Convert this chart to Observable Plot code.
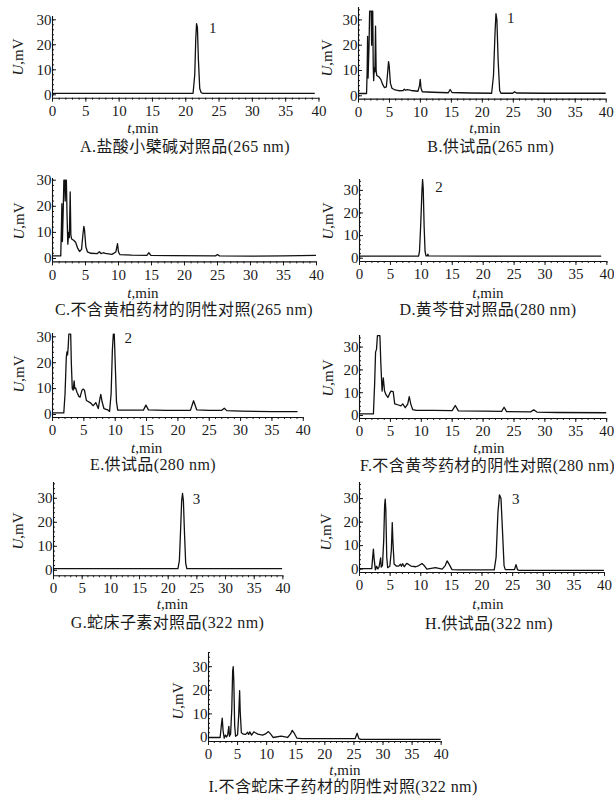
<!DOCTYPE html>
<html><head><meta charset="utf-8">
<script src="https://cdn.jsdelivr.net/npm/d3@7"></script>
<script src="https://cdn.jsdelivr.net/npm/@observablehq/plot@0.6"></script>
<style>
body{margin:0;background:#fff;}
#chart{position:relative;width:614px;height:797px;overflow:hidden;background:#fff;font-family:"Liberation Serif","Noto Sans CJK SC",serif;color:#1a1a1a;}
.p{position:absolute;}
.cap,.xl,.yl{position:absolute;white-space:nowrap;font-size:15px;line-height:1;}
.cap{font-size:16px;letter-spacing:0.4px;}
.cap,.xl{transform:translate(-50%,-50%);}
.yl{transform:translate(-50%,-50%) rotate(-90deg);}
</style></head>
<body><div id="chart"></div>
<script>
// ---- data (t in min, U in mV) ----
const traceA = [[0,0.6],[21.1,0.6],[21.35,8],[21.5,22],[21.62,28.5],[21.75,27],[21.9,14],[22.1,2.5],[22.3,0.9],[22.5,0.6],[39.3,0.6]];
const traceB = [[0,0.9],[1.3,0.9],[1.4,10],[1.47,23.5],[1.55,7],[1.7,20],[1.8,33.5],[1.95,33.5],[2.05,33.5],[2.12,20],[2.2,33.5],[2.3,33.5],[2.38,12],[2.45,6],[2.55,11],[2.65,9.5],[2.75,27.5],[2.85,10],[2.95,8],[3.3,7.5],[3.6,6.5],[3.9,4.5],[4.2,3.2],[4.5,3.5],[4.7,9],[4.85,13.5],[4.95,12],[5.15,5],[5.4,3],[5.9,2.3],[6.5,2],[7.2,2.1],[7.4,2.6],[7.6,2.2],[7.9,2.4],[8.5,2.1],[9.6,1.8],[9.85,4],[9.97,6.5],[10.1,3],[10.3,1.6],[12,1.4],[14.5,1.2],[14.8,2.5],[15.1,1.3],[18,1.1],[21.5,1.0],[21.8,8],[22.05,25],[22.2,32.5],[22.35,30],[22.55,14],[22.8,2],[23.0,1.0],[24.9,1.0],[25.2,1.6],[25.5,1.1],[30,1.0],[35,1.0],[40,1.0]];
const traceC = [[0,1.0],[1.25,1.0],[1.35,12],[1.42,21],[1.5,6.5],[1.62,18],[1.72,30],[1.85,30],[1.92,22],[2.0,30],[2.1,30],[2.2,17],[2.32,5.5],[2.45,10],[2.55,8],[2.68,25.5],[2.78,9],[2.9,7.5],[3.2,7],[3.5,6.2],[3.8,4],[4.1,2.7],[4.4,3.5],[4.6,9],[4.75,12.3],[4.85,11],[5.05,4.5],[5.3,2.5],[5.8,2],[6.8,1.9],[7.1,2.6],[7.35,1.9],[7.7,2.2],[8.0,2.0],[9.0,1.6],[9.6,2.5],[9.85,5.7],[10.0,2.5],[10.2,1.5],[12,1.3],[14.3,1.2],[14.6,2.2],[14.9,1.2],[18,1.1],[24.7,1.0],[25,1.5],[25.3,1.0],[30,0.9],[35,1.0],[40,1.2]];
const traceD = [[0,0.9],[9.55,0.9],[9.7,3],[9.9,15],[10.1,30],[10.2,34.8],[10.3,31],[10.45,14],[10.6,3],[10.75,1.0],[10.95,1.0],[11.05,1.8],[11.15,1.0],[20,0.9],[39,0.9]];
const traceE = [[0,0.6],[1.8,0.6],[2.0,8],[2.2,22],[2.3,24.2],[2.4,23],[2.5,26],[2.6,31],[2.75,31],[2.9,31],[3.0,20],[3.15,10],[3.3,9.4],[3.45,13],[3.55,10],[3.7,10.2],[3.9,8.6],[4.2,7],[4.4,6.7],[4.7,9.4],[4.9,9.8],[5.1,9.4],[5.4,5.4],[6.0,4.6],[6.5,3.4],[6.9,4.6],[7.3,2.3],[7.55,6],[7.7,7.8],[7.9,5],[8.2,2.3],[8.8,1.8],[9.1,1.2],[9.35,8],[9.55,25],[9.7,31],[9.85,31],[10.0,20],[10.2,5],[10.4,1.7],[12,1.7],[14.5,1.7],[14.9,3.6],[15.3,1.8],[18,1.6],[22.0,1.6],[22.5,5.3],[23.0,1.8],[25,1.6],[27.0,1.6],[27.4,2.4],[27.8,1.5],[30,1.3],[35,1.1],[39,1.1]];
const traceF = [[0,0.7],[2.25,0.7],[2.45,14],[2.6,27.8],[2.75,29],[2.9,35],[3.1,35],[3.3,35],[3.45,23],[3.65,10.7],[3.85,16.5],[4.05,10.7],[4.3,9],[4.6,7.9],[4.9,9.8],[5.1,10.7],[5.45,10.5],[5.7,5.1],[6.3,4.6],[6.7,4.2],[7.0,5.1],[7.4,3.4],[7.8,5],[8.05,8.3],[8.3,5],[8.6,2.6],[9.2,2.2],[12,2.2],[15.0,2.1],[15.5,4.4],[16.0,2.0],[20,1.9],[23.0,1.8],[23.4,3.6],[23.8,1.7],[27.7,1.6],[28.2,2.5],[28.7,1.5],[32,1.3],[40,1.2]];
const traceG = [[0,0.7],[21.7,0.7],[21.95,4],[22.15,16],[22.35,29],[22.5,32],[22.65,29],[22.85,15],[23.05,3],[23.25,0.7],[39.8,0.7]];
const traceH = [[0,0.2],[2.0,0.2],[2.15,5],[2.27,8.5],[2.4,4],[2.6,-0.3],[2.8,1.2],[3.0,0.1],[3.2,1],[3.45,4.8],[3.55,0.8],[3.75,1.6],[3.95,12],[4.1,27],[4.2,29.8],[4.3,25],[4.45,5],[4.6,0.6],[4.95,1.2],[5.2,8],[5.35,19.8],[5.45,12],[5.65,2.2],[6.0,1.3],[6.4,1.3],[6.7,2.1],[6.85,1.2],[7.05,2.3],[7.3,1.0],[7.7,2.4],[7.95,2.1],[8.4,1.3],[9.2,1.0],[9.7,1.5],[10.2,2.4],[10.6,1.4],[11.0,0],[12.4,0.6],[13.5,0],[14.0,1.5],[14.3,3.5],[14.6,2.2],[15.1,-0.2],[16.2,-0.3],[22.0,-0.3],[22.3,5],[22.6,24],[22.85,31.6],[23.1,30],[23.35,16],[23.6,1.5],[23.8,-0.2],[25.3,-0.2],[25.55,1.9],[25.8,-0.3],[26.1,-0.5],[40,-0.5]];
const traceI = [[0,0],[2.0,0],[2.2,5],[2.36,8.2],[2.5,3],[2.7,-0.3],[2.9,1],[3.1,0.2],[3.3,1.2],[3.5,4.7],[3.6,0.5],[3.8,1.5],[4.0,12],[4.15,28],[4.25,30],[4.35,24],[4.5,5],[4.65,0.5],[5.0,1.2],[5.2,10],[5.35,19.8],[5.45,11],[5.65,2],[6.0,1.4],[6.4,1.3],[6.7,2.2],[6.9,1.3],[7.1,2.4],[7.4,1.0],[7.8,2.4],[8.05,2.0],[8.5,1.4],[9.3,1.0],[9.8,1.5],[10.3,2.5],[10.7,1.4],[11.1,0],[12.5,0.6],[13.6,0],[14.1,1.5],[14.4,3.0],[14.7,2.0],[15.2,-0.3],[16,-0.5],[25.2,-0.5],[25.55,1.8],[25.85,-0.5],[26.2,-0.8],[40,-0.8]];

const peakA = [{t:23.5,v:26.6,label:"1"}];
const peakB = [{t:24.0,v:30.6,label:"1"}];
const peakD = [{t:12.25,v:31.4,label:"2"}];
const peakE = [{t:11.5,v:29.3,label:"2"}];
const peakG = [{t:24.3,v:29.7,label:"3"}];
const peakH = [{t:24.9,v:29.8,label:"3"}];

const xTicks = [0,5,10,15,20,25,30,35,40];
const yTicks = [0,10,20,30];
const captions = ["A.盐酸小檗碱对照品(265 nm)","B.供试品(265 nm)","C.不含黄柏药材的阴性对照(265 nm)","D.黄芩苷对照品(280 nm)","E.供试品(280 nm)","F.不含黄芩药材的阴性对照(280 nm)","G.蛇床子素对照品(322 nm)","H.供试品(322 nm)","I.不含蛇床子药材的阴性对照(322 nm)"];
const xTitle = "<i>t</i>,min";
const yTitle = "<i>U</i>,mV";

// ---- layout (page px) ----
const layout = [
  {trace:traceA, peaks:peakA, x0:52,   x40:318.5, zero:94.3,  k:2.5,  line:97.7,  top:16,    cap:[185,146.7], xl:[143,128],   yl:[18.3,56.7]},
  {trace:traceB, peaks:peakB, x0:358.3,x40:606,   zero:95,    k:2.53, line:98.3,  top:6.7,   cap:[490.8,146.7], xl:[485,128], yl:[326.7,57.5]},
  {trace:traceC, peaks:[],    x0:52,   x40:316,   zero:258.3, k:2.61, line:261.7, top:178.3, cap:[184,310],   xl:[143,293],   yl:[19,220.8]},
  {trace:traceD, peaks:peakD, x0:359.3,x40:606.7, zero:257.7, k:2.26, line:261,   top:179,   cap:[488,310],   xl:[488,292.7], yl:[327.5,220.8]},
  {trace:traceE, peaks:peakE, x0:51.7, x40:302.5, zero:414.3, k:2.59, line:417.3, top:333.3, cap:[153,465],   xl:[146.7,447.7], yl:[19,374]},
  {trace:traceF, peaks:[],    x0:359.3,x40:606.5, zero:415,   k:2.28, line:418,   top:335,   cap:[487.5,465.7], xl:[489,447.7], yl:[327.5,377.5]},
  {trace:traceG, peaks:peakG, x0:53.3, x40:282.7, zero:569.5, k:2.4,  line:575,   top:481.7, cap:[167.5,623.3], xl:[172.5,604], yl:[17.5,531]},
  {trace:traceH, peaks:peakH, x0:359.3,x40:604.3, zero:568.3, k:2.35, line:571.7, top:481.7, cap:[489,624.3], xl:[488,604],   yl:[325.8,531.7]},
  {trace:traceI, peaks:[],    x0:208.3,x40:441,   zero:736.7, k:2.36, line:740.7, top:651.7, cap:[343,786.7], xl:[345,770],   yl:[177.5,701]}
];

const root = document.getElementById("chart");
const ml = 40, mr = 14, mt = 6, mb = 26;
const font = '"Liberation Serif","Times New Roman",serif';

layout.forEach((p, i) => {
  const ybot = (p.zero - p.line) / p.k;
  const ytop = (p.zero - p.top) / p.k;
  const W = p.x40 - p.x0 + ml + mr;
  const H = p.line - p.top + mt + mb;
  const pts = p.trace.map(([t, v]) => ({t, v}));
  const xMinor = d3.range(0, 41, 1);
  const yMinor = d3.range(0, ytop, 2);
  const svg = Plot.plot({
    width: W, height: H,
    marginLeft: ml, marginRight: mr, marginTop: mt, marginBottom: mb,
    style: {background: "transparent", overflow: "visible", fontFamily: font, fontSize: "15px", color: "#1a1a1a"},
    x: {domain: [0, 40], label: null},
    y: {domain: [ybot, ytop], label: null},
    marks: [
      Plot.axisX({ticks: xMinor, tickSize: 2, tickFormat: () => "", label: null}),
      Plot.axisX({ticks: xTicks, tickSize: 4, tickPadding: 3, fontSize: 15, fontFamily: font, label: null}),
      Plot.axisY({ticks: yMinor, tickSize: 2, dx: 2, tickFormat: () => "", label: null}),
      Plot.axisY({ticks: yTicks, tickSize: 4, dx: 4, tickFormat: () => "", label: null}),
      Plot.axisY({ticks: yTicks, tickSize: 0, tickPadding: 1, fontSize: 15, fontFamily: font, label: null}),
      Plot.ruleY([ybot], {stroke: "#111", strokeWidth: 1.1}),
      Plot.ruleX([0], {y1: ybot, y2: ytop, stroke: "#111", strokeWidth: 1.1}),
      Plot.line(pts, {x: "t", y: "v", stroke: "#111", strokeWidth: 1.3, curve: "linear", clip: true}),
      Plot.text(p.peaks, {x: "t", y: "v", text: "label", textAnchor: "start", fontSize: 15, fontFamily: font, fill: "#1a1a1a"})
    ]
  });
  const div = document.createElement("div");
  div.className = "p";
  div.style.left = (p.x0 - ml) + "px";
  div.style.top = (p.top - mt) + "px";
  div.style.width = W + "px";
  div.style.height = H + "px";
  div.appendChild(svg);
  root.appendChild(div);

  const cap = document.createElement("div");
  cap.className = "cap"; cap.textContent = captions[i];
  cap.style.left = p.cap[0] + "px"; cap.style.top = p.cap[1] + "px";
  root.appendChild(cap);
  const xl = document.createElement("div");
  xl.className = "xl"; xl.innerHTML = xTitle;
  xl.style.left = p.xl[0] + "px"; xl.style.top = p.xl[1] + "px";
  root.appendChild(xl);
  const yl = document.createElement("div");
  yl.className = "yl"; yl.innerHTML = yTitle;
  yl.style.left = p.yl[0] + "px"; yl.style.top = p.yl[1] + "px";
  root.appendChild(yl);
});
</script>
</body></html>
